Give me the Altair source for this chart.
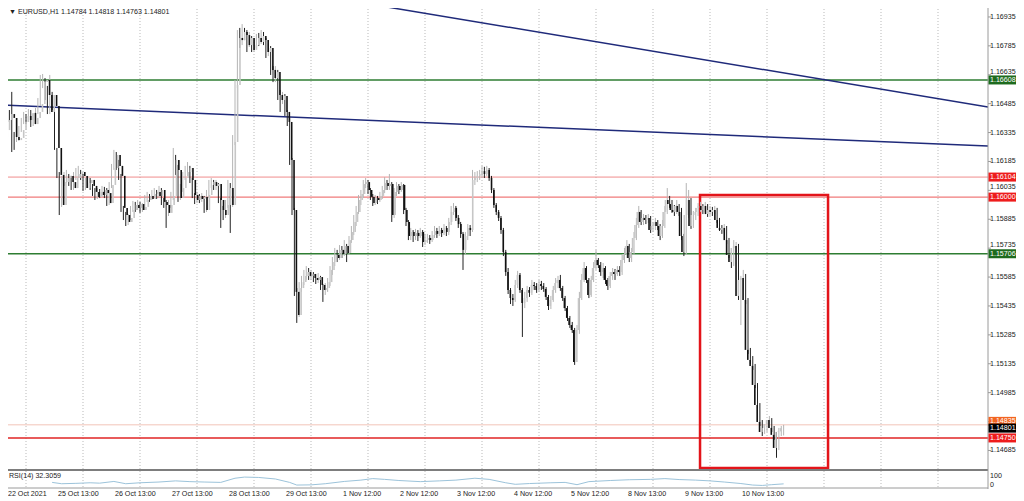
import altair as alt
import pandas as pd

# ---------------- data (EURUSD H1) ----------------
first_open = 1.16374
closes = [1.16312,1.16348,1.16400,1.16431,1.16411,1.16312,1.16296,1.16307,1.16348,1.16390,
1.16421,1.16400,1.16437,1.16379,1.16411,1.16442,1.16483,1.16597,1.16608,1.16530,
1.16442,1.16530,1.16473,1.16255,1.16115,1.15959,1.16078,1.16099,1.16110,1.16078,
1.16047,1.16099,1.16120,1.16130,1.16110,1.16047,1.16073,1.16089,1.16058,1.16027,
1.16001,1.16027,1.16011,1.16037,1.16021,1.15969,1.16063,1.16151,1.16219,1.16162,
1.16110,1.15944,1.15907,1.15871,1.15892,1.15933,1.15959,1.15944,1.15964,1.15933,
1.15949,1.15985,1.16006,1.15990,1.16016,1.16027,1.16006,1.16037,1.15975,1.15959,
1.15918,1.15959,1.16006,1.16193,1.16141,1.15995,1.16047,1.16099,1.16130,1.16151,
1.16089,1.16011,1.15985,1.16006,1.15990,1.16001,1.15933,1.16011,1.16063,1.16078,
1.16058,1.16068,1.15985,1.15933,1.15907,1.15959,1.16047,1.15959,1.16286,1.16582,
1.16826,1.16815,1.16857,1.16841,1.16789,1.16826,1.16764,1.16789,1.16826,1.16805,
1.16836,1.16815,1.16753,1.16774,1.16660,1.16618,1.16649,1.16530,1.16504,1.16525,
1.16442,1.16390,1.16193,1.15933,1.15508,1.15388,1.15528,1.15559,1.15591,1.15611,
1.15591,1.15601,1.15580,1.15570,1.15585,1.15544,1.15518,1.15528,1.15559,1.15622,
1.15663,1.15700,1.15684,1.15726,1.15705,1.15746,1.15710,1.15777,1.15819,1.15871,
1.15923,1.15985,1.16016,1.16068,1.16078,1.16037,1.16001,1.15969,1.15995,1.15985,
1.16006,1.16037,1.16073,1.16058,1.16068,1.15907,1.16027,1.16058,1.16037,1.16063,
1.15933,1.15871,1.15798,1.15819,1.15798,1.15814,1.15798,1.15819,1.15767,1.15777,
1.15788,1.15777,1.15803,1.15824,1.15809,1.15829,1.15814,1.15840,1.15819,1.15871,
1.15923,1.15944,1.15892,1.15860,1.15809,1.15726,1.15798,1.15840,1.15829,1.16089,
1.16099,1.16110,1.16120,1.16135,1.16120,1.16141,1.16099,1.16037,1.15959,1.15923,
1.15892,1.15829,1.15715,1.15611,1.15518,1.15476,1.15466,1.15544,1.15596,1.15518,
1.15450,1.15476,1.15518,1.15503,1.15544,1.15539,1.15518,1.15549,1.15539,1.15523,
1.15482,1.15435,1.15466,1.15518,1.15554,1.15570,1.15528,1.15476,1.15424,1.15373,
1.15336,1.15310,1.15144,1.15310,1.15476,1.15570,1.15632,1.15570,1.15492,1.15570,
1.15632,1.15674,1.15647,1.15611,1.15632,1.15570,1.15539,1.15591,1.15611,1.15601,
1.15622,1.15611,1.15674,1.15705,1.15746,1.15684,1.15715,1.15788,1.15855,1.15923,
1.15871,1.15892,1.15881,1.15892,1.15829,1.15850,1.15871,1.15850,1.15798,1.15850,
1.15923,1.15985,1.15964,1.15933,1.15923,1.15954,1.15923,1.15798,1.15715,1.15907,
1.15985,1.15850,1.15907,1.15923,1.15944,1.15954,1.15933,1.15954,1.15912,1.15933,
1.15923,1.15933,1.15881,1.15840,1.15829,1.15840,1.15777,1.15700,1.15663,1.15736,
1.15746,1.15487,1.15570,1.15580,1.15466,1.15207,1.15155,1.15124,1.15025,1.14921,
1.14833,1.14781,1.14802,1.14822,1.14843,1.14802,1.14766,1.14698,1.14781,1.14784,
1.14801]
highs = [1.16400,1.16369,1.16426,1.16463,1.16452,1.16546,1.16338,1.16328,1.16369,1.16411,
1.16442,1.16431,1.16457,1.16452,1.16431,1.16463,1.16514,1.16634,1.16639,1.16618,
1.16577,1.16634,1.16546,1.16483,1.16255,1.16130,1.16110,1.16130,1.16141,1.16120,
1.16110,1.16130,1.16151,1.16162,1.16141,1.16120,1.16099,1.16110,1.16099,1.16068,
1.16047,1.16047,1.16042,1.16058,1.16053,1.16047,1.16078,1.16172,1.16245,1.16234,
1.16193,1.16120,1.15954,1.15923,1.15912,1.15954,1.15980,1.15975,1.15985,1.15975,
1.15969,1.16011,1.16027,1.16016,1.16037,1.16047,1.16037,1.16058,1.16047,1.15995,
1.15985,1.15985,1.16027,1.16255,1.16219,1.16167,1.16068,1.16130,1.16162,1.16182,
1.16162,1.16099,1.16021,1.16027,1.16016,1.16021,1.16006,1.16037,1.16089,1.16099,
1.16089,1.16089,1.16073,1.15995,1.15954,1.15985,1.16089,1.16073,1.16322,1.16608,
1.16867,1.16878,1.16898,1.16878,1.16867,1.16857,1.16836,1.16826,1.16847,1.16852,
1.16867,1.16857,1.16826,1.16795,1.16784,1.16680,1.16680,1.16660,1.16556,1.16546,
1.16535,1.16452,1.16411,1.16203,1.15944,1.15528,1.15559,1.15591,1.15622,1.15642,
1.15632,1.15622,1.15611,1.15601,1.15606,1.15591,1.15549,1.15554,1.15580,1.15642,
1.15689,1.15736,1.15726,1.15751,1.15746,1.15777,1.15757,1.15798,1.15850,1.15907,
1.15954,1.16011,1.16037,1.16089,1.16099,1.16089,1.16047,1.16016,1.16011,1.16006,
1.16027,1.16058,1.16104,1.16089,1.16120,1.16078,1.16047,1.16078,1.16068,1.16078,
1.16068,1.15944,1.15881,1.15840,1.15829,1.15835,1.15829,1.15840,1.15829,1.15809,
1.15809,1.15803,1.15824,1.15850,1.15840,1.15850,1.15840,1.15860,1.15850,1.15892,
1.15954,1.15969,1.15954,1.15907,1.15871,1.15819,1.15819,1.15860,1.15855,1.16141,
1.16130,1.16135,1.16141,1.16162,1.16157,1.16162,1.16151,1.16110,1.16047,1.15969,
1.15933,1.15902,1.15840,1.15726,1.15632,1.15528,1.15497,1.15570,1.15617,1.15606,
1.15528,1.15508,1.15539,1.15533,1.15570,1.15559,1.15554,1.15570,1.15565,1.15554,
1.15533,1.15492,1.15487,1.15539,1.15580,1.15591,1.15596,1.15539,1.15487,1.15435,
1.15383,1.15352,1.15321,1.15336,1.15508,1.15601,1.15663,1.15642,1.15580,1.15591,
1.15663,1.15726,1.15684,1.15663,1.15658,1.15642,1.15580,1.15611,1.15632,1.15627,
1.15642,1.15642,1.15700,1.15736,1.15777,1.15757,1.15736,1.15819,1.15892,1.15954,
1.15933,1.15912,1.15907,1.15912,1.15902,1.15871,1.15892,1.15881,1.15860,1.15881,
1.15954,1.16047,1.16006,1.15985,1.15959,1.15985,1.15964,1.15944,1.15809,1.16073,
1.16037,1.15995,1.15928,1.15944,1.15969,1.15975,1.15964,1.15975,1.15964,1.15954,
1.15949,1.15954,1.15944,1.15892,1.15855,1.15860,1.15850,1.15788,1.15715,1.15777,
1.15767,1.15757,1.15591,1.15622,1.15601,1.15476,1.15217,1.15175,1.15134,1.15035,
1.14931,1.14843,1.14822,1.14843,1.14864,1.14853,1.14812,1.14781,1.14802,1.14812,
1.14818]
lows = [1.16296,1.16302,1.16338,1.16379,1.16390,1.16234,1.16245,1.16286,1.16291,1.16338,
1.16379,1.16379,1.16390,1.16364,1.16369,1.16395,1.16431,1.16473,1.16566,1.16504,
1.16431,1.16431,1.16452,1.16245,1.16099,1.15907,1.15949,1.16058,1.16073,1.16058,
1.16037,1.16037,1.16089,1.16099,1.16089,1.16032,1.16037,1.16047,1.16037,1.16006,
1.15985,1.15990,1.15995,1.16001,1.15995,1.15954,1.15959,1.16047,1.16141,1.16141,
1.16089,1.15923,1.15881,1.15850,1.15855,1.15881,1.15923,1.15923,1.15933,1.15918,
1.15923,1.15933,1.15975,1.15975,1.15985,1.16001,1.15990,1.15995,1.15959,1.15944,
1.15840,1.15902,1.15944,1.15985,1.16115,1.15975,1.15985,1.16027,1.16089,1.16110,
1.16073,1.15995,1.15964,1.15969,1.15969,1.15975,1.15918,1.15923,1.15995,1.16047,
1.16037,1.16037,1.15969,1.15840,1.15881,1.15892,1.15944,1.15814,1.15949,1.16270,
1.16566,1.16774,1.16789,1.16815,1.16753,1.16779,1.16753,1.16753,1.16774,1.16784,
1.16795,1.16789,1.16722,1.16732,1.16634,1.16597,1.16597,1.16504,1.16442,1.16483,
1.16421,1.16369,1.16167,1.15907,1.15487,1.15347,1.15378,1.15508,1.15544,1.15570,
1.15570,1.15570,1.15559,1.15549,1.15554,1.15518,1.15456,1.15492,1.15508,1.15539,
1.15596,1.15642,1.15663,1.15674,1.15684,1.15694,1.15663,1.15700,1.15762,1.15803,
1.15850,1.15912,1.15959,1.15995,1.16047,1.16016,1.15985,1.15954,1.15959,1.15964,
1.15975,1.15990,1.16021,1.16037,1.16037,1.15871,1.15892,1.16006,1.16016,1.16027,
1.15912,1.15850,1.15777,1.15777,1.15767,1.15777,1.15772,1.15788,1.15741,1.15751,
1.15762,1.15757,1.15767,1.15788,1.15788,1.15798,1.15793,1.15803,1.15798,1.15803,
1.15855,1.15907,1.15876,1.15840,1.15788,1.15622,1.15700,1.15777,1.15798,1.15819,
1.16063,1.16078,1.16089,1.16099,1.16099,1.16110,1.16084,1.16021,1.15944,1.15907,
1.15876,1.15809,1.15694,1.15591,1.15497,1.15445,1.15435,1.15456,1.15528,1.15503,
1.15274,1.15424,1.15456,1.15482,1.15492,1.15518,1.15503,1.15508,1.15518,1.15508,
1.15466,1.15414,1.15419,1.15456,1.15503,1.15528,1.15513,1.15461,1.15409,1.15357,
1.15321,1.15295,1.15129,1.15155,1.15290,1.15466,1.15559,1.15554,1.15476,1.15482,
1.15559,1.15622,1.15632,1.15591,1.15580,1.15549,1.15518,1.15528,1.15570,1.15570,
1.15591,1.15591,1.15596,1.15658,1.15684,1.15663,1.15663,1.15700,1.15777,1.15840,
1.15855,1.15855,1.15860,1.15866,1.15814,1.15819,1.15829,1.15829,1.15777,1.15788,
1.15840,1.15912,1.15944,1.15918,1.15902,1.15912,1.15902,1.15777,1.15694,1.15700,
1.15892,1.15835,1.15840,1.15881,1.15902,1.15923,1.15912,1.15923,1.15897,1.15902,
1.15902,1.15912,1.15866,1.15824,1.15809,1.15814,1.15757,1.15684,1.15632,1.15642,
1.15715,1.15466,1.15336,1.15518,1.15445,1.15186,1.15134,1.15103,1.15009,1.14906,
1.14812,1.14760,1.14771,1.14781,1.14802,1.14781,1.14740,1.14647,1.14687,1.14760,
1.14763]

rsi_bar = [22,26,32,38,42,48,53,59,67,74,80,86,93,99,103,109,116,122,125,131,137,145,152,157,
           162,168,177,185,192,200,206,213,217,223,232,238,243,248,257,265,274,280,286,293,
           299,305,312,317,321,325,330]
rsi_val = [40,33,35,38,36,45,33,38,42,48,44,42,40,62,68,66,58,40,26,27,33,45,52,60,
           56,50,44,48,52,62,56,38,30,34,38,40,28,44,50,54,56,60,55,52,
           48,42,34,26,24,28,32.3]

grid_bars = [11,35,59,83,107,131,155,179,203,227,251,275,299,323,347,371,395]
time_bars = [35,59,83,107,131,155,179,203,227,251,275,299,323]
time_labels = ["25 Oct 13:00","26 Oct 13:00","27 Oct 13:00","28 Oct 13:00","29 Oct 13:00",
               "1 Nov 12:00","2 Nov 12:00","3 Nov 12:00","4 Nov 12:00","5 Nov 12:00",
               "8 Nov 13:00","9 Nov 13:00","10 Nov 13:00"]

price_ticks = [1.16935,1.16785,1.16635,1.16485,1.16335,1.16185,1.16035,1.15885,1.15735,
               1.15585,1.15435,1.15285,1.15135,1.14985,1.14835,1.14685]
# tick labels that sit just above a coloured level box are drawn a little higher
raised_ticks = [1.16635, 1.15735, 1.16035]

level_prices = [1.16608,1.16104,1.16000,1.15706,1.14818,1.14750]
level_colors = ["#2e7d32","#f08c8c","#ec5a5a","#2e7d32","#f2c4b8","#e02424"]
level_widths = [1.6,1,1,1.6,1,1.6]

box_prices = [1.16608,1.16104,1.16000,1.15706,1.14836,1.14801,1.14750]
box_texts = ["1.16608","1.16104","1.16000","1.15706","1.14835","1.14801","1.14750"]
box_colors = ["#1e6b1e","#ee1c1c","#ee1c1c","#1e6b1e","#f26522","#000000","#ee1c1c"]

trend_id = ["a","a","b","b"]
trend_bar = [145.3,416.05,0.05,416.05]
trend_price = [1.17023,1.16468,1.16478,1.16265]

box_bar = [294.8]; box_bar2 = [348.7]; box_top = [1.16011]; box_bottom = [1.14594]

# ---------------- frames ----------------
opens = [first_open] + closes[:-1]
df = pd.DataFrame({"bar": list(range(len(closes))), "open": opens, "close": closes,
                   "high": highs, "low": lows})
df["high"] = df[["high","open","close"]].max(axis=1)
df["low"] = df[["low","open","close"]].min(axis=1)
df["bull"] = df["close"] >= df["open"]
df["body"] = df["bull"].map({True: "#c6c6c6", False: "#111111"})
df["wick"] = df["bull"].map({True: "#b4b4b4", False: "#222222"})

FONT = "Liberation Sans"
FS = 7.1
W, H = 988, 488
xs = alt.Scale(domain=[0.0526, 416.05], nice=False, zero=False)
ps = alt.Scale(domain=[1.14594, 1.17023], range=[468, 0], nice=False, zero=False)
rs = alt.Scale(domain=[0, 100], range=[490, 471], nice=False, zero=False)
pix_x = alt.Scale(domain=[0, 988], range=[0, 988], nice=False, zero=False)
pix_y = alt.Scale(domain=[0, 488], range=[0, 488], nice=False, zero=False)

X = lambda f: alt.X(f, type="quantitative", scale=xs, axis=None)
P = lambda f: alt.Y(f, type="quantitative", scale=ps, axis=None)

grid = alt.Chart(pd.DataFrame({"bar": grid_bars})).mark_rule(
    color="#b9b9b9", strokeWidth=1, strokeDash=[1, 2]).encode(
    x=X("bar"), y=alt.value(0), y2=alt.value(488))

levels = alt.Chart(pd.DataFrame({"p": level_prices, "c": level_colors, "w": level_widths})).mark_rule().encode(
    y=P("p"), x=alt.value(0), x2=alt.value(988),
    color=alt.Color("c:N", scale=None), strokeWidth=alt.StrokeWidth("w:Q", scale=None))

trends = alt.Chart(pd.DataFrame({"id": trend_id, "bar": trend_bar, "p": trend_price})).mark_line(
    color="#1f2a7a", strokeWidth=1.5, clip=True).encode(x=X("bar"), y=P("p"), detail="id:N")

rect = alt.Chart(pd.DataFrame({"b1": box_bar, "b2": box_bar2, "t": box_top, "bt": box_bottom})).mark_rect(
    fill=None, fillOpacity=0, stroke="#e3141a", strokeWidth=2.5).encode(
    x=X("b1"), x2="b2", y=P("t"), y2="bt")

wicks = alt.Chart(df).mark_rule(strokeWidth=1).encode(
    x=X("bar"), y=P("low"), y2="high", color=alt.Color("wick:N", scale=None))
bodies = alt.Chart(df).mark_bar(width=1.6).encode(
    x=X("bar"), y=P("open"), y2="close", color=alt.Color("body:N", scale=None))

rsi = alt.Chart(pd.DataFrame({"bar": rsi_bar, "v": rsi_val})).mark_line(
    color="#9cc3da", strokeWidth=1).encode(
    x=X("bar"), y=alt.Y("v:Q", scale=rs, axis=None))

frame_h = alt.Chart(pd.DataFrame({"y": [470, 488], "w": [2, 1], "c": ["#7d7d7d", "#9a9a9a"]})).mark_rule().encode(
    y=alt.Y("y:Q", scale=pix_y, axis=None),
    x=alt.value(0), x2=alt.value(988),
    strokeWidth=alt.StrokeWidth("w:Q", scale=None), color=alt.Color("c:N", scale=None))
frame_v = alt.Chart(pd.DataFrame({"k": [0]})).mark_rule(color="#9a9a9a", strokeWidth=1).encode(
    x=alt.value(988), y=alt.value(0), y2=alt.value(489))

pticks = alt.Chart(pd.DataFrame({"p": price_ticks})).mark_rule(color="#9a9a9a").encode(
    y=P("p"), x=alt.value(988), x2=alt.value(991))
normal = [v for v in price_ticks if v not in raised_ticks]
plabels = alt.Chart(pd.DataFrame({"p": normal, "t": [f"{v:.5f}" for v in normal]})).mark_text(
    align="left", baseline="middle", font=FONT, fontSize=FS, color="#222222").encode(
    y=P("p"), x=alt.value(990), text="t:N")
plabels_up = alt.Chart(pd.DataFrame({"p": raised_ticks, "t": [f"{v:.5f}" for v in raised_ticks]})).mark_text(
    align="left", baseline="middle", dy=-3, font=FONT, fontSize=FS, color="#222222").encode(
    y=P("p"), x=alt.value(990), text="t:N")

bdf = pd.DataFrame({"p": box_prices, "t": box_texts, "c": box_colors, "o": list(range(len(box_prices)))})
boxes = alt.Chart(bdf).mark_rule(strokeWidth=9).encode(
    y=P("p"), x=alt.value(988.5), x2=alt.value(1016), color=alt.Color("c:N", scale=None), order="o:Q")
btexts = alt.Chart(bdf).mark_text(align="left", baseline="middle", font=FONT, fontSize=FS,
                                  color="white").encode(y=P("p"), x=alt.value(990), text="t:N")

tlabels = alt.Chart(pd.DataFrame({"bar": time_bars, "t": time_labels})).mark_text(
    align="left", baseline="middle", dx=-25, font=FONT, fontSize=FS, color="#222222").encode(
    x=X("bar"), y=alt.value(494), text="t:N")

static_text = pd.DataFrame({
    "t": ["\u25bc EURUSD,H1  1.14784 1.14818 1.14763 1.14801", "RSI(14) 32.3059", "22 Oct 2021", "100", "0"],
    "x": [9, 9, 8, 990, 990], "y": [12, 476, 494, 476, 485]})
texts = alt.Chart(static_text).mark_text(align="left", baseline="middle", font=FONT, fontSize=FS,
                                         color="#222222").encode(
    x=alt.X("x:Q", scale=pix_x, axis=None),
    y=alt.Y("y:Q", scale=pix_y, axis=None),
    text="t:N")

chart = alt.layer(
    grid, levels, trends, rect, wicks, bodies, rsi, frame_h, frame_v,
    pticks, plabels, plabels_up, boxes, btexts, tlabels, texts
).resolve_scale(y="independent", x="independent").properties(
    width=W, height=H,
    autosize=alt.AutoSizeParams(type="none"),
    padding={"left": -8, "top": -8, "right": 28, "bottom": 10},
    background="white",
).configure_view(stroke=None)

chart.save("out.html", embed_options={"renderer": "svg", "actions": False})
